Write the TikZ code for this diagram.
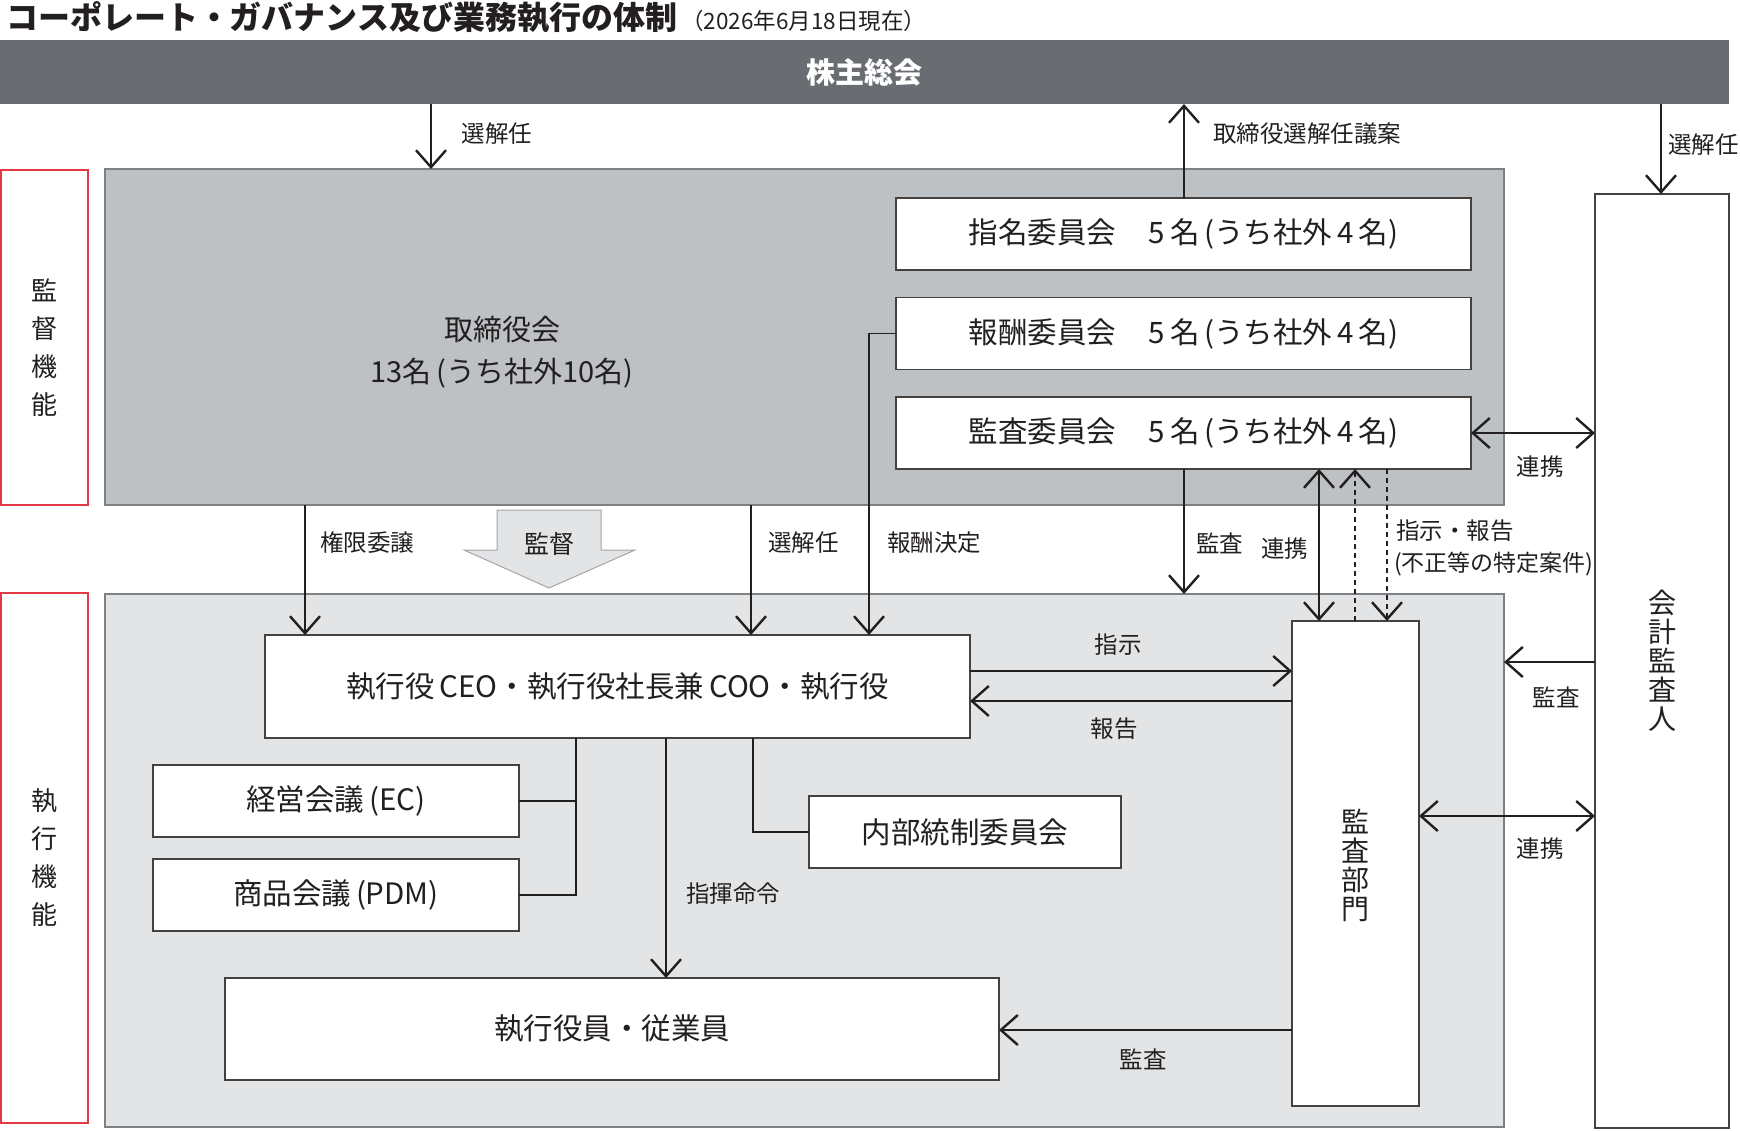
\documentclass[tikz,border=0pt]{standalone}
\usepackage{fontspec}
\setmainfont{Noto Sans CJK JP}
\usetikzlibrary{arrows.meta,calc}
\definecolor{barc}{HTML}{696D71}
\definecolor{boardc}{HTML}{BEC1C4}
\definecolor{execc}{HTML}{E3E4E5}
\definecolor{redc}{HTML}{E23B45}
\definecolor{inkc}{HTML}{231F20}
\definecolor{rgnc}{HTML}{7E8184}
\definecolor{blkc}{HTML}{A3A6A9}
\begin{document}
\begin{tikzpicture}[x=1pt,y=-1pt,
  every node/.style={inner sep=0pt,outer sep=0pt,text=inkc},
  wbox/.style={draw=inkc!85,line width=1.5pt,fill=white},
  region/.style={draw=rgnc,line width=1.2pt,anchor=north west},
  redbox/.style={draw=redc,line width=1.6pt,fill=white,anchor=north west},
  boxtxt/.style={font=\fontsize{29.5}{34}\selectfont},
  lbl/.style={font=\fontsize{23.5}{28}\selectfont},
  vtxt/.style={align=center},
  conn/.style={draw=inkc,line width=1.5pt},
  arr/.style={conn,-{Straight Barb[length=17pt,width=30pt,line width=2.4pt]}},
  darr/.style={conn,{Straight Barb[length=17pt,width=30pt,line width=2.4pt]}-{Straight Barb[length=17pt,width=30pt,line width=2.4pt]}},
  dsh/.style={draw=inkc,line width=1.3pt,dash pattern=on 5pt off 4pt}
]
\useasboundingbox (0,0) rectangle (1740,1130);

% title
\node[anchor=west] (title) at (6,17) {\fontsize{32}{32}\selectfont\bfseries コーポレート・ガバナンス及び業務執行の体制\fontsize{22.5}{22.5}\selectfont\mdseries\,（2026年6月18日現在）};

% shareholders bar
\node[fill=barc,anchor=north west,minimum width=1729,minimum height=64] (sh) at (0,40) {};
\node[font=\fontsize{29}{29}\selectfont\bfseries,text=white] (shl) at (864,72) {株主総会};

% regions
\node[region,fill=boardc,minimum width=1399,minimum height=336] (board) at (105,169) {};
\node[region,fill=execc,minimum width=1399,minimum height=533] (execr) at (105,594) {};

% side labels
\node[redbox,minimum width=87,minimum height=335] (supbox) at (1,170) {};
\node[vtxt,font=\fontsize{26}{38}\selectfont] (supl) at (44,348) {監\\督\\機\\能};
\node[redbox,minimum width=87,minimum height=530] (exebox) at (1,593) {};
\node[vtxt,font=\fontsize{26}{38}\selectfont] (exel) at (44,858) {執\\行\\機\\能};

% board label
\node[align=center,font=\fontsize{29}{42}\selectfont] (boardl) at (502,352) {取締役会\\13名\,(うち社外10名)};

% committees
\node[wbox,boxtxt,minimum width=575,minimum height=72] (nom) at (1183.5,234) {指名委員会\hspace{1.1em}5\,名\,(うち社外\,4\,名)};
\node[wbox,boxtxt,minimum width=575,minimum height=72] (rem) at (1183.5,333.5) {報酬委員会\hspace{1.1em}5\,名\,(うち社外\,4\,名)};
\node[wbox,boxtxt,minimum width=575,minimum height=72] (aud) at (1183.5,433) {監査委員会\hspace{1.1em}5\,名\,(うち社外\,4\,名)};

% external auditor
\node[wbox,minimum width=134,minimum height=934] (ext) at (1662,661) {};
\node[vtxt,font=\fontsize{28}{29}\selectfont] (extl) at (1662,661) {会\\計\\監\\査\\人};

% execution boxes
\node[wbox,boxtxt,minimum width=705,minimum height=103] (ceo) at (617.5,686.5) {執行役\,CEO・執行役社長兼\,COO・執行役};
\node[wbox,boxtxt,minimum width=366,minimum height=72] (ec) at (336,801) {経営会議\,(EC)};
\node[wbox,boxtxt,minimum width=366,minimum height=72] (pdm) at (336,895) {商品会議\,(PDM)};
\node[wbox,boxtxt,minimum width=312,minimum height=72] (icc) at (965,832) {内部統制委員会};
\node[wbox,boxtxt,minimum width=774,minimum height=102] (emp) at (612,1029) {執行役員・従業員};
\node[wbox,minimum width=127,minimum height=485] (iad) at (1355.5,863.5) {};
\node[vtxt,font=\fontsize{28}{29}\selectfont] (iadl) at (1355.5,865) {監\\査\\部\\門};

% helper x positions
\coordinate (xA) at (431,0);
\coordinate (xB) at (1184,0);
\coordinate (xC) at (1661,0);
\coordinate (xD) at (305,0);
\coordinate (xE) at (751,0);
\coordinate (xF) at (869,0);
\coordinate (xG) at (1319,0);
\coordinate (xH) at (1355,0);
\coordinate (xI) at (1387,0);
\coordinate (xJ) at (666,0);
\coordinate (xK) at (576,0);
\coordinate (xL) at (753,0);
\coordinate (yA) at (0,671);
\coordinate (yB) at (0,701);
\coordinate (yC) at (0,662);
\coordinate (yD) at (0,816);
\coordinate (yE) at (0,1030);

% shareholders connectors
\draw[arr] (sh.south -| xA) -- (board.north -| xA);
\node[lbl] (l1) at (497,134) {選解任};
\draw[arr] (nom.north -| xB) -- (sh.south -| xB);
\node[lbl,anchor=west] (l2) at (1213,134) {取締役選解任議案};
\draw[arr] (sh.south -| xC) -- (ext.north -| xC);
\node[lbl,anchor=west] (l3) at (1668,145) {選解任};

% audit committee <-> external auditor
\draw[darr] (aud.east) -- (ext.west |- aud.east);
\node[lbl] (l4) at (1540,467) {連携};

% board -> execution
\draw[arr] (board.south -| xD) -- (ceo.north -| xD);
\node[lbl,anchor=west] (l5) at (320,543) {権限委譲};
\draw[arr] (board.south -| xE) -- (ceo.north -| xE);
\node[lbl,anchor=west] (l6) at (768,543) {選解任};
\draw[arr] (rem.west) -| (ceo.north -| xF);
\node[lbl,anchor=west] (l7) at (887,543) {報酬決定};
\draw[arr] (aud.south -| xB) -- (execr.north -| xB);
\node[lbl,anchor=west] (l8) at (1196,543) {監査};
\draw[darr] (aud.south -| xG) -- (iad.north -| xG);
\node[lbl,anchor=west] (l9) at (1261,549) {連携};
\draw[dsh,-{Straight Barb[length=17pt,width=30pt,line width=2.4pt]}] (iad.north -| xH) -- (aud.south -| xH);
\draw[dsh,-{Straight Barb[length=17pt,width=30pt,line width=2.4pt]}] (aud.south -| xI) -- (iad.north -| xI);
\node[lbl,anchor=west] (l10) at (1396,531) {指示・報告};
\node[anchor=west,font=\fontsize{23}{28}\selectfont] (l11) at (1394,564) {(不正等の特定案件)};

% supervision block arrow
\filldraw[fill=execc,draw=blkc,line width=1pt] (497,510) -- (601,510) -- (601,550) -- (635,550) -- (549,588) -- (464,550) -- (497,550) -- cycle;
\node[font=\fontsize{25}{25}\selectfont] (l12) at (549,544) {監督};

% CEO <-> internal audit
\draw[arr] (ceo.east |- yA) -- (iad.west |- yA);
\node[lbl] (l13) at (1118,645) {指示};
\draw[arr] (iad.west |- yB) -- (ceo.east |- yB);
\node[lbl] (l14) at (1114,729) {報告};

% external auditor -> execution
\draw[arr] (ext.west |- yC) -- (execr.east |- yC);
\node[lbl] (l15) at (1556,697) {監査};
\draw[darr] (iad.east |- yD) -- (ext.west |- yD);
\node[lbl] (l16) at (1540,849) {連携};

% internal audit -> employees
\draw[arr] (iad.west |- yE) -- (emp.east |- yE);
\node[lbl] (l17) at (1143,1059) {監査};

% command
\draw[arr] (ceo.south -| xJ) -- (emp.north -| xJ);
\node[lbl,anchor=west] (l18) at (686,894) {指揮命令};

% EC / PDM / ICC
\draw[conn] (ceo.south -| xK) |- (pdm.east);
\draw[conn] (ec.east) -- (ec.east -| xK);
\draw[conn] (ceo.south -| xL) |- (icc.west);
\end{tikzpicture}
\end{document}
